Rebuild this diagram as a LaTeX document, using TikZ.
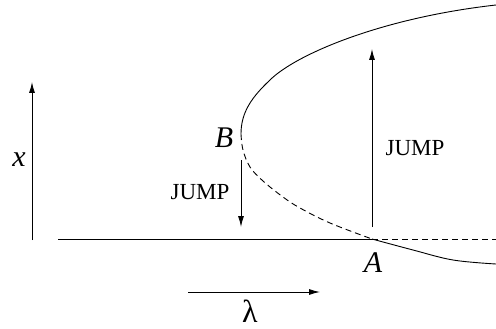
\documentclass[tikz,border=0pt]{standalone}
\usepackage{fontspec}
\setmainfont{Liberation Serif}
\usetikzlibrary{arrows.meta}
\begin{document}
\begin{tikzpicture}[x=1pt,y=-1pt,
  curve/.style={line width=0.9pt},
  arr/.style={line width=0.9pt,-{Latex[length=11pt,width=6pt]}},
  lbl/.style={inner sep=0pt,font=\fontsize{23}{23}\selectfont},
  mlbl/.style={inner sep=0pt,font=\fontsize{30}{30}\selectfont\itshape}]
\useasboundingbox (0,0) rectangle (496,329);
% points
\coordinate (L) at (58,239);
\coordinate (A) at (372,239);
\coordinate (R) at (496,239);
\coordinate (B) at (241,134);
\coordinate (M) at (270,80);
\coordinate (T) at (496,5);
% axes
\coordinate (xs) at (32,240);
\coordinate (xe) at (32,82);
\draw[arr] (xs) -- (xe);
\coordinate (ls) at (188,292);
\coordinate (le) at (320,292);
\draw[arr] (ls) -- (le);
% horizontal branch
\draw[curve] (L) -- (A);
\draw[curve,dash pattern=on 6pt off 4pt] (A) -- (R);
% lower stable branch
\draw[curve] plot[smooth,tension=0.6] coordinates {(372,239) (413,250) (453,260) (496,264)};
% unstable dashed branch
\draw[curve,dash pattern=on 6pt off 4pt] plot[smooth,tension=0.6] coordinates {(241,134) (243,150) (250,167) (263,181) (283,197) (300,208) (330,223) (372,239)};
% upper stable branch
\draw[curve] (B) .. controls (241,112) and (252,97) .. (M)
                 .. controls (295,55) and (380,18) .. (T);
% jump arrows
\coordinate (j1s) at (241,160);
\coordinate (j1e) at (241,227);
\draw[arr] (j1s) -- (j1e);
\coordinate (j2s) at (372,227);
\coordinate (j2e) at (372,49);
\draw[arr] (j2s) -- (j2e);
% labels
\node[mlbl] (xl) at (19,160) {x};
\node[mlbl] (Bl) at (224,138) {B};
\node[mlbl] (Al) at (373,263) {A};
\node[inner sep=0pt,font=\fontsize{32}{32}\selectfont] (lam) at (250,311) {λ};
\node[lbl] (jd) at (200,192) {JUMP};
\node[lbl] (ju) at (415,148) {JUMP};
\end{tikzpicture}
\end{document}
